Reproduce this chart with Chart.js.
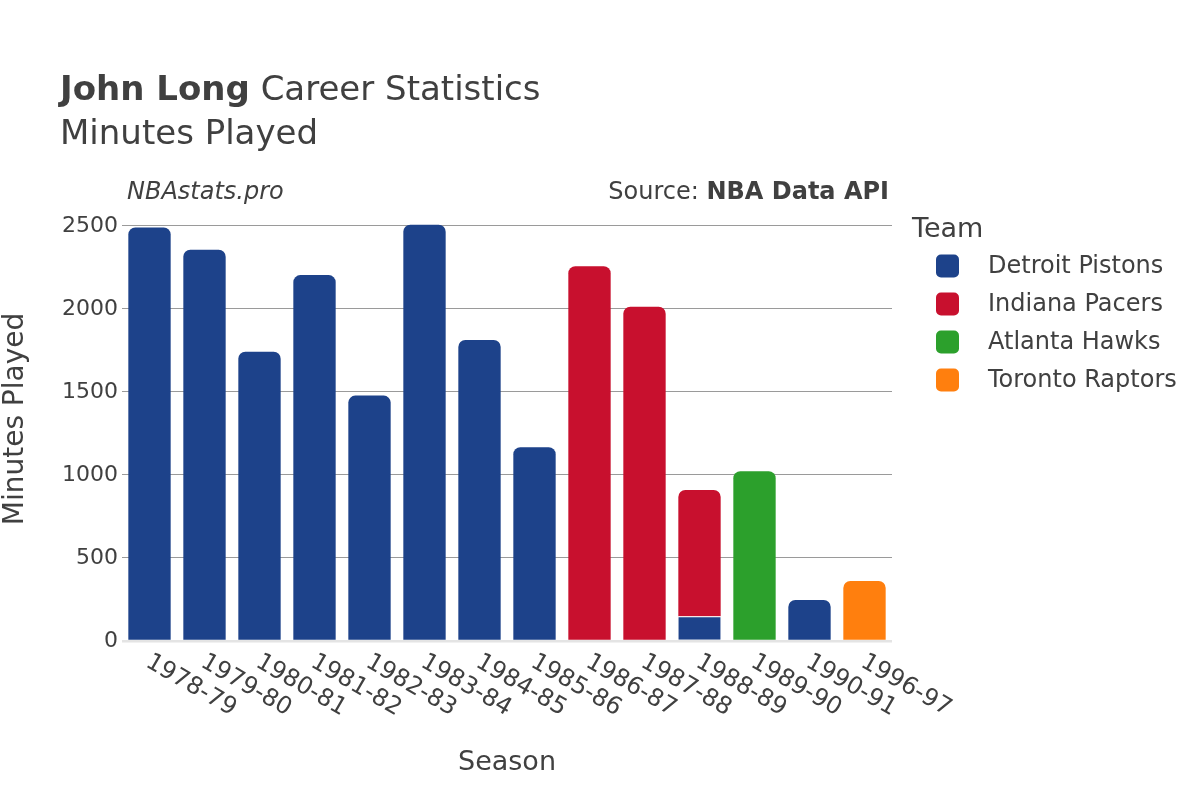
<!DOCTYPE html>
<html>
<head>
<meta charset="utf-8">
<script src="https://cdn.jsdelivr.net/npm/chart.js@4.4.1/dist/chart.umd.min.js"></script>
<style>
  html, body { margin: 0; padding: 0; background: #fff; }
  #wrap { position: relative; width: 1200px; height: 800px; }
</style>
</head>
<body>
<div id="wrap"><canvas id="chart" width="1200" height="800"></canvas></div>
<script>
// Minutes played per season, stacked by team (null = did not play for that team)
const SEASONS = ["1978-79", "1979-80", "1980-81", "1981-82", "1982-83", "1983-84", "1984-85",
  "1985-86", "1986-87", "1987-88", "1988-89", "1989-90", "1990-91", "1996-97"];
const TEAMS = ["Detroit Pistons", "Indiana Pacers", "Atlanta Hawks", "Toronto Raptors"];
const TEAM_COLORS = ["#1d428a", "#c8102e", "#2ca02c", "#ff7f0e"];

const DETROIT = [2491, 2357, 1743, 2204, 1478, 2507, 1813, 1167, null, null, 149, null, 247, null];
const INDIANA = [null, null, null, null, null, null, null, null, 2258, 2014, 761, null, null, null];
const ATLANTA = [null, null, null, null, null, null, null, null, null, null, null, 1023, null, null];
const TORONTO = [null, null, null, null, null, null, null, null, null, null, null, null, null, 361];

const Y_TICKS = [0, 500, 1000, 1500, 2000, 2500];

const SERIES = [DETROIT, INDIANA, ATLANTA, TORONTO];
const FONT = '"DejaVu Sans", "Liberation Sans", sans-serif';
const TEXT = "#404040";

Chart.defaults.font.family = FONT;
Chart.defaults.color = TEXT;
Chart.defaults.animation = false;

// a segment is the top of its stack if no later team has minutes that season
function isTop(di, i) {
  for (let k = di + 1; k < SERIES.length; k++) {
    if (SERIES[k][i] != null) return false;
  }
  return true;
}

const datasets = TEAMS.map((team, di) => ({
  label: team,
  data: SERIES[di],
  backgroundColor: TEAM_COLORS[di],
  borderColor: "#ffffff",
  borderWidth: (c) => (isTop(di, c.dataIndex) ? 0 : { top: 1, left: 0, right: 0, bottom: 0 }),
  borderRadius: (c) => (isTop(di, c.dataIndex) ? { topLeft: 7, topRight: 7, bottomLeft: 0, bottomRight: 0 } : 0),
  borderSkipped: "start",
  barPercentage: 0.77,
  categoryPercentage: 1,
}));

// titles, watermark, axis titles, rotated season labels and legend
const decorations = {
  id: "decorations",
  afterDraw(chart) {
    const ctx = chart.ctx;
    const area = chart.chartArea;
    const xs = chart.scales.x;
    ctx.save();
    ctx.fillStyle = TEXT;
    ctx.textBaseline = "alphabetic";
    ctx.textAlign = "left";

    ctx.font = `bold 34px ${FONT}`;
    ctx.fillText("John Long", 60, 100);
    const w = ctx.measureText("John Long").width;
    ctx.font = `34px ${FONT}`;
    ctx.fillText(" Career Statistics", 60 + w, 100);
    ctx.fillText("Minutes Played", 60, 144);

    ctx.font = `italic 24px ${FONT}`;
    ctx.fillText("NBAstats.pro", area.left + 5, 199);

    ctx.textAlign = "right";
    ctx.font = `bold 24px ${FONT}`;
    ctx.fillText("NBA Data API", area.right - 3, 199);
    const bw = ctx.measureText("NBA Data API").width;
    ctx.font = `24px ${FONT}`;
    ctx.fillText("Source: ", area.right - 3 - bw, 199);

    // season labels, rotated clockwise
    ctx.textAlign = "left";
    ctx.textBaseline = "top";
    ctx.font = `24px ${FONT}`;
    SEASONS.forEach((s, i) => {
      const x = xs.getPixelForTick(i);
      ctx.save();
      ctx.translate(x + 4, area.bottom + 9);
      ctx.rotate(Math.PI / 6);
      ctx.fillText(s, 0, 0);
      ctx.restore();
    });

    // axis titles
    ctx.textAlign = "center";
    ctx.textBaseline = "alphabetic";
    ctx.font = `27px ${FONT}`;
    ctx.fillText("Season", (area.left + area.right) / 2, 770);
    ctx.save();
    ctx.translate(16, 419);
    ctx.rotate(-Math.PI / 2);
    ctx.textBaseline = "middle";
    ctx.font = `28px ${FONT}`;
    ctx.fillText("Minutes Played", 0, 0);
    ctx.restore();

    // legend
    ctx.textAlign = "left";
    ctx.font = `27px ${FONT}`;
    ctx.fillText("Team", 912, 237);
    ctx.font = `24px ${FONT}`;
    ctx.textBaseline = "middle";
    TEAMS.forEach((t, i) => {
      const cy = 266 + i * 38;
      ctx.fillStyle = TEAM_COLORS[i];
      ctx.beginPath();
      ctx.roundRect(936, cy - 11.5, 23, 23, 5);
      ctx.fill();
      ctx.fillStyle = TEXT;
      ctx.fillText(t, 988, cy + 1);
    });
    ctx.restore();
  },
};

new Chart(document.getElementById("chart"), {
  type: "bar",
  data: { labels: SEASONS, datasets },
  options: {
    responsive: false,
    layout: { padding: { top: 213, right: 308, left: 0, bottom: 0 } },
    plugins: { legend: { display: false }, tooltip: { enabled: false } },
    scales: {
      x: {
        stacked: true,
        grid: { display: false },
        border: { display: false },
        ticks: { display: false },
        afterFit: (scale) => { scale.height = 159; },
      },
      y: {
        stacked: true,
        min: 0,
        max: 2578,
        border: { display: false },
        afterBuildTicks: (scale) => { scale.ticks = Y_TICKS.map((v) => ({ value: v })); },
        afterFit: (scale) => { scale.width = 122; },
        grid: {
          drawTicks: false,
          color: (c) => (c.tick && c.tick.value === 0 ? "#e4e4e4" : "#9a9a9a"),
          lineWidth: (c) => (c.tick && c.tick.value === 0 ? 2.5 : 1),
        },
        ticks: { font: { size: 22 }, color: TEXT, padding: 4, callback: (v) => String(v) },
      },
    },
  },
  plugins: [decorations],
});
</script>
</body>
</html>
